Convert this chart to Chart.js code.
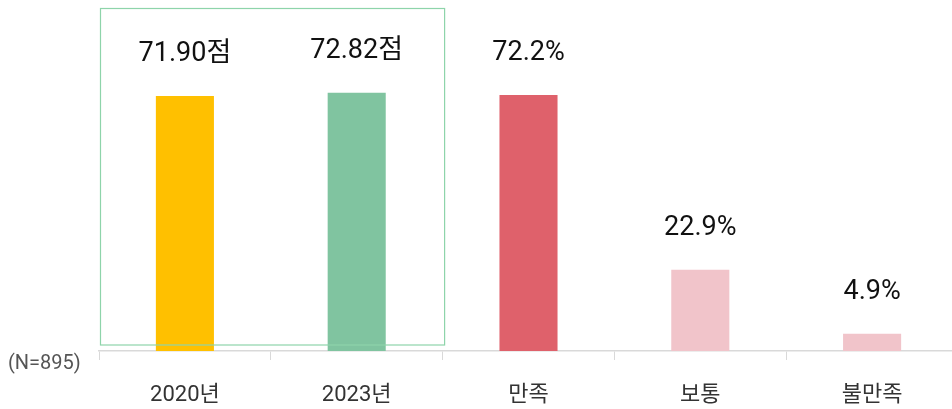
<!DOCTYPE html>
<html>
<head>
<meta charset="utf-8">
<script src="https://cdn.jsdelivr.net/npm/chart.js@4/dist/chart.umd.min.js"></script>
<style>
    html, body { margin: 0; padding: 0; background: #fff; overflow: hidden; }
    #wrap { width: 960px; height: 409px; }
</style>
</head>
<body>
<div id="wrap"><canvas id="satChart"></canvas></div>
<script>
// Chart data
const categories = ['2020년', '2023년', '만족', '보통', '불만족'];
const values = [71.90, 72.82, 72.2, 22.9, 4.9];
const valueLabels = ['71.90점', '72.82점', '72.2%', '22.9%', '4.9%'];
const barColors = ['#FFC000', '#80C4A0', '#DF616B', '#F1C4CA', '#F1C4CA'];
const sampleNote = '(N=895)';

// Value labels above each bar
const valueLabelPlugin = {
    id: 'valueLabels',
    afterDatasetsDraw(chart) {
        const ctx = chart.ctx;
        const meta = chart.getDatasetMeta(0);
        ctx.save();
        ctx.font = '400 27px Roboto, "Noto Sans CJK KR"';
        ctx.fillStyle = '#111';
        ctx.textAlign = 'center';
        ctx.textBaseline = 'bottom';
        meta.data.forEach((bar, i) => {
            ctx.fillText(valueLabels[i], bar.x, bar.y - 28);
        });
        ctx.restore();
    }
};

// Green box around the first two bars and the sample size note
const decorPlugin = {
    id: 'decor',
    afterDraw(chart) {
        const ctx = chart.ctx;
        const area = chart.chartArea;
        const x = chart.scales.x;
        const half = (x.getPixelForValue(1) - x.getPixelForValue(0)) / 2;
        ctx.save();
        ctx.strokeStyle = '#8ED4AA';
        ctx.lineWidth = 1.2;
        ctx.strokeRect(area.left + 1.5, 8.5, x.getPixelForValue(1) + half + 2 - area.left - 1.5, area.bottom - 6 - 8.5);

        ctx.font = '20px Roboto, "Noto Sans CJK KR"';
        ctx.fillStyle = '#555';
        ctx.textAlign = 'left';
        ctx.textBaseline = 'middle';
        ctx.fillText(sampleNote, 8, area.bottom + 13);
        ctx.restore();
    }
};

new Chart(document.getElementById('satChart').getContext('2d'), {
    type: 'bar',
    data: {
        labels: categories,
        datasets: [{
            data: values,
            backgroundColor: barColors,
            borderWidth: 0,
            categoryPercentage: 1,
            barPercentage: 0.338
        }]
    },
    options: {
        responsive: true,
        maintainAspectRatio: false,
        animation: false,
        layout: { padding: { left: 99, right: 2, top: 0, bottom: 0 } },
        plugins: {
            legend: { display: false },
            tooltip: { enabled: false }
        },
        scales: {
            x: {
                grid: {
                    offset: true,
                    drawOnChartArea: false,
                    tickLength: 9,
                    color: '#D9D9D9'
                },
                border: { color: '#D9D9D9', width: 1.5 },
                ticks: {
                    color: '#333',
                    padding: 22,
                    font: { family: 'Roboto, "Noto Sans CJK KR"', size: 22 }
                },
                afterFit(scale) { scale.height = 58; }
            },
            y: {
                display: false,
                min: 0,
                max: 99
            }
        }
    },
    plugins: [valueLabelPlugin, decorPlugin]
});
</script>
</body>
</html>
